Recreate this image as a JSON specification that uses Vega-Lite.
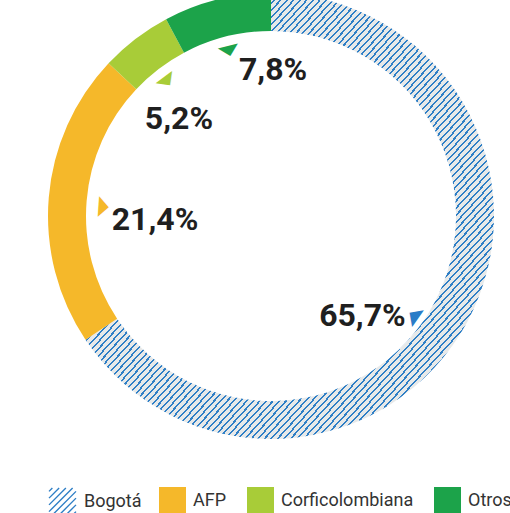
{
"$schema":"https://vega.github.io/schema/vega-lite/v6.json",
"width":542,"height":432,"autosize":"none","padding":{"left":0,"top":0,"right":0,"bottom":81},"background":"white",
"config":{"view":{"stroke":null},
"legend":{"orient":"none","direction":"horizontal","padding":0,"symbolSize":729,"labelFont":"Roboto","labelFontSize":18,"labelColor":"#333333","labelOffset":7,"columnPadding":20}},
"data":{"values":[
{"k":"Bogotá","v":65.7,"label":"65,7%"},
{"k":"AFP","v":21.4,"label":"21,4%"},
{"k":"Corficolombiana","v":5.2,"label":"5,2%"},
{"k":"Otros","v":7.8,"label":"7,8%"}]},
"transform":[{"window":[{"op":"row_number","as":"i"}]}],
"encoding":{
"theta":{"field":"v","type":"quantitative","stack":true},
"order":{"field":"i","type":"quantitative"},
"detail":{"field":"k"}
},
"layer":[
{"mark":{"type":"arc","outerRadius":223,"innerRadius":185},
"encoding":{"color":{"field":"k","type":"nominal",
"condition":{"test":"datum.k === 'Bogotá'","value":{"gradient":"linear","x1":0,"y1":0,"x2":1,"y2":1,"stops":[
{"offset":0,"color":"#e7e9e9"},{"offset":0.0055,"color":"#e7e9e9"},{"offset":0.0055,"color":"#2f7fc6"},{"offset":0.008,"color":"#2f7fc6"},
{"offset":0.008,"color":"#e7e9e9"},{"offset":0.0135,"color":"#e7e9e9"},{"offset":0.0135,"color":"#2f7fc6"},{"offset":0.016,"color":"#2f7fc6"},
{"offset":0.016,"color":"#e7e9e9"},{"offset":0.0215,"color":"#e7e9e9"},{"offset":0.0215,"color":"#2f7fc6"},{"offset":0.024,"color":"#2f7fc6"},
{"offset":0.024,"color":"#e7e9e9"},{"offset":0.0295,"color":"#e7e9e9"},{"offset":0.0295,"color":"#2f7fc6"},{"offset":0.032,"color":"#2f7fc6"},
{"offset":0.032,"color":"#e7e9e9"},{"offset":0.0375,"color":"#e7e9e9"},{"offset":0.0375,"color":"#2f7fc6"},{"offset":0.04,"color":"#2f7fc6"},
{"offset":0.04,"color":"#e7e9e9"},{"offset":0.0455,"color":"#e7e9e9"},{"offset":0.0455,"color":"#2f7fc6"},{"offset":0.048,"color":"#2f7fc6"},
{"offset":0.048,"color":"#e7e9e9"},{"offset":0.0535,"color":"#e7e9e9"},{"offset":0.0535,"color":"#2f7fc6"},{"offset":0.056,"color":"#2f7fc6"},
{"offset":0.056,"color":"#e7e9e9"},{"offset":0.0615,"color":"#e7e9e9"},{"offset":0.0615,"color":"#2f7fc6"},{"offset":0.064,"color":"#2f7fc6"},
{"offset":0.064,"color":"#e7e9e9"},{"offset":0.0695,"color":"#e7e9e9"},{"offset":0.0695,"color":"#2f7fc6"},{"offset":0.072,"color":"#2f7fc6"},
{"offset":0.072,"color":"#e7e9e9"},{"offset":0.0775,"color":"#e7e9e9"},{"offset":0.0775,"color":"#2f7fc6"},{"offset":0.08,"color":"#2f7fc6"},
{"offset":0.08,"color":"#e7e9e9"},{"offset":0.0855,"color":"#e7e9e9"},{"offset":0.0855,"color":"#2f7fc6"},{"offset":0.088,"color":"#2f7fc6"},
{"offset":0.088,"color":"#e7e9e9"},{"offset":0.0935,"color":"#e7e9e9"},{"offset":0.0935,"color":"#2f7fc6"},{"offset":0.096,"color":"#2f7fc6"},
{"offset":0.096,"color":"#e7e9e9"},{"offset":0.1015,"color":"#e7e9e9"},{"offset":0.1015,"color":"#2f7fc6"},{"offset":0.104,"color":"#2f7fc6"},
{"offset":0.104,"color":"#e7e9e9"},{"offset":0.1095,"color":"#e7e9e9"},{"offset":0.1095,"color":"#2f7fc6"},{"offset":0.112,"color":"#2f7fc6"},
{"offset":0.112,"color":"#e7e9e9"},{"offset":0.1175,"color":"#e7e9e9"},{"offset":0.1175,"color":"#2f7fc6"},{"offset":0.12,"color":"#2f7fc6"},
{"offset":0.12,"color":"#e7e9e9"},{"offset":0.1255,"color":"#e7e9e9"},{"offset":0.1255,"color":"#2f7fc6"},{"offset":0.128,"color":"#2f7fc6"},
{"offset":0.128,"color":"#e7e9e9"},{"offset":0.1335,"color":"#e7e9e9"},{"offset":0.1335,"color":"#2f7fc6"},{"offset":0.136,"color":"#2f7fc6"},
{"offset":0.136,"color":"#e7e9e9"},{"offset":0.1415,"color":"#e7e9e9"},{"offset":0.1415,"color":"#2f7fc6"},{"offset":0.144,"color":"#2f7fc6"},
{"offset":0.144,"color":"#e7e9e9"},{"offset":0.1495,"color":"#e7e9e9"},{"offset":0.1495,"color":"#2f7fc6"},{"offset":0.152,"color":"#2f7fc6"},
{"offset":0.152,"color":"#e7e9e9"},{"offset":0.1575,"color":"#e7e9e9"},{"offset":0.1575,"color":"#2f7fc6"},{"offset":0.16,"color":"#2f7fc6"},
{"offset":0.16,"color":"#e7e9e9"},{"offset":0.1655,"color":"#e7e9e9"},{"offset":0.1655,"color":"#2f7fc6"},{"offset":0.168,"color":"#2f7fc6"},
{"offset":0.168,"color":"#e7e9e9"},{"offset":0.1735,"color":"#e7e9e9"},{"offset":0.1735,"color":"#2f7fc6"},{"offset":0.176,"color":"#2f7fc6"},
{"offset":0.176,"color":"#e7e9e9"},{"offset":0.1815,"color":"#e7e9e9"},{"offset":0.1815,"color":"#2f7fc6"},{"offset":0.184,"color":"#2f7fc6"},
{"offset":0.184,"color":"#e7e9e9"},{"offset":0.1895,"color":"#e7e9e9"},{"offset":0.1895,"color":"#2f7fc6"},{"offset":0.192,"color":"#2f7fc6"},
{"offset":0.192,"color":"#e7e9e9"},{"offset":0.1975,"color":"#e7e9e9"},{"offset":0.1975,"color":"#2f7fc6"},{"offset":0.2,"color":"#2f7fc6"},
{"offset":0.2,"color":"#e7e9e9"},{"offset":0.2055,"color":"#e7e9e9"},{"offset":0.2055,"color":"#2f7fc6"},{"offset":0.208,"color":"#2f7fc6"},
{"offset":0.208,"color":"#e7e9e9"},{"offset":0.2135,"color":"#e7e9e9"},{"offset":0.2135,"color":"#2f7fc6"},{"offset":0.216,"color":"#2f7fc6"},
{"offset":0.216,"color":"#e7e9e9"},{"offset":0.2215,"color":"#e7e9e9"},{"offset":0.2215,"color":"#2f7fc6"},{"offset":0.224,"color":"#2f7fc6"},
{"offset":0.224,"color":"#e7e9e9"},{"offset":0.2295,"color":"#e7e9e9"},{"offset":0.2295,"color":"#2f7fc6"},{"offset":0.232,"color":"#2f7fc6"},
{"offset":0.232,"color":"#e7e9e9"},{"offset":0.2375,"color":"#e7e9e9"},{"offset":0.2375,"color":"#2f7fc6"},{"offset":0.24,"color":"#2f7fc6"},
{"offset":0.24,"color":"#e7e9e9"},{"offset":0.2455,"color":"#e7e9e9"},{"offset":0.2455,"color":"#2f7fc6"},{"offset":0.248,"color":"#2f7fc6"},
{"offset":0.248,"color":"#e7e9e9"},{"offset":0.2535,"color":"#e7e9e9"},{"offset":0.2535,"color":"#2f7fc6"},{"offset":0.256,"color":"#2f7fc6"},
{"offset":0.256,"color":"#e7e9e9"},{"offset":0.2615,"color":"#e7e9e9"},{"offset":0.2615,"color":"#2f7fc6"},{"offset":0.264,"color":"#2f7fc6"},
{"offset":0.264,"color":"#e7e9e9"},{"offset":0.2695,"color":"#e7e9e9"},{"offset":0.2695,"color":"#2f7fc6"},{"offset":0.272,"color":"#2f7fc6"},
{"offset":0.272,"color":"#e7e9e9"},{"offset":0.2775,"color":"#e7e9e9"},{"offset":0.2775,"color":"#2f7fc6"},{"offset":0.28,"color":"#2f7fc6"},
{"offset":0.28,"color":"#e7e9e9"},{"offset":0.2855,"color":"#e7e9e9"},{"offset":0.2855,"color":"#2f7fc6"},{"offset":0.288,"color":"#2f7fc6"},
{"offset":0.288,"color":"#e7e9e9"},{"offset":0.2935,"color":"#e7e9e9"},{"offset":0.2935,"color":"#2f7fc6"},{"offset":0.296,"color":"#2f7fc6"},
{"offset":0.296,"color":"#e7e9e9"},{"offset":0.3015,"color":"#e7e9e9"},{"offset":0.3015,"color":"#2f7fc6"},{"offset":0.304,"color":"#2f7fc6"},
{"offset":0.304,"color":"#e7e9e9"},{"offset":0.3095,"color":"#e7e9e9"},{"offset":0.3095,"color":"#2f7fc6"},{"offset":0.312,"color":"#2f7fc6"},
{"offset":0.312,"color":"#e7e9e9"},{"offset":0.3175,"color":"#e7e9e9"},{"offset":0.3175,"color":"#2f7fc6"},{"offset":0.32,"color":"#2f7fc6"},
{"offset":0.32,"color":"#e7e9e9"},{"offset":0.3255,"color":"#e7e9e9"},{"offset":0.3255,"color":"#2f7fc6"},{"offset":0.328,"color":"#2f7fc6"},
{"offset":0.328,"color":"#e7e9e9"},{"offset":0.3335,"color":"#e7e9e9"},{"offset":0.3335,"color":"#2f7fc6"},{"offset":0.336,"color":"#2f7fc6"},
{"offset":0.336,"color":"#e7e9e9"},{"offset":0.3415,"color":"#e7e9e9"},{"offset":0.3415,"color":"#2f7fc6"},{"offset":0.344,"color":"#2f7fc6"},
{"offset":0.344,"color":"#e7e9e9"},{"offset":0.3495,"color":"#e7e9e9"},{"offset":0.3495,"color":"#2f7fc6"},{"offset":0.352,"color":"#2f7fc6"},
{"offset":0.352,"color":"#e7e9e9"},{"offset":0.3575,"color":"#e7e9e9"},{"offset":0.3575,"color":"#2f7fc6"},{"offset":0.36,"color":"#2f7fc6"},
{"offset":0.36,"color":"#e7e9e9"},{"offset":0.3655,"color":"#e7e9e9"},{"offset":0.3655,"color":"#2f7fc6"},{"offset":0.368,"color":"#2f7fc6"},
{"offset":0.368,"color":"#e7e9e9"},{"offset":0.3735,"color":"#e7e9e9"},{"offset":0.3735,"color":"#2f7fc6"},{"offset":0.376,"color":"#2f7fc6"},
{"offset":0.376,"color":"#e7e9e9"},{"offset":0.3815,"color":"#e7e9e9"},{"offset":0.3815,"color":"#2f7fc6"},{"offset":0.384,"color":"#2f7fc6"},
{"offset":0.384,"color":"#e7e9e9"},{"offset":0.3895,"color":"#e7e9e9"},{"offset":0.3895,"color":"#2f7fc6"},{"offset":0.392,"color":"#2f7fc6"},
{"offset":0.392,"color":"#e7e9e9"},{"offset":0.3975,"color":"#e7e9e9"},{"offset":0.3975,"color":"#2f7fc6"},{"offset":0.4,"color":"#2f7fc6"},
{"offset":0.4,"color":"#e7e9e9"},{"offset":0.4055,"color":"#e7e9e9"},{"offset":0.4055,"color":"#2f7fc6"},{"offset":0.408,"color":"#2f7fc6"},
{"offset":0.408,"color":"#e7e9e9"},{"offset":0.4135,"color":"#e7e9e9"},{"offset":0.4135,"color":"#2f7fc6"},{"offset":0.416,"color":"#2f7fc6"},
{"offset":0.416,"color":"#e7e9e9"},{"offset":0.4215,"color":"#e7e9e9"},{"offset":0.4215,"color":"#2f7fc6"},{"offset":0.424,"color":"#2f7fc6"},
{"offset":0.424,"color":"#e7e9e9"},{"offset":0.4295,"color":"#e7e9e9"},{"offset":0.4295,"color":"#2f7fc6"},{"offset":0.432,"color":"#2f7fc6"},
{"offset":0.432,"color":"#e7e9e9"},{"offset":0.4375,"color":"#e7e9e9"},{"offset":0.4375,"color":"#2f7fc6"},{"offset":0.44,"color":"#2f7fc6"},
{"offset":0.44,"color":"#e7e9e9"},{"offset":0.4455,"color":"#e7e9e9"},{"offset":0.4455,"color":"#2f7fc6"},{"offset":0.448,"color":"#2f7fc6"},
{"offset":0.448,"color":"#e7e9e9"},{"offset":0.4535,"color":"#e7e9e9"},{"offset":0.4535,"color":"#2f7fc6"},{"offset":0.456,"color":"#2f7fc6"},
{"offset":0.456,"color":"#e7e9e9"},{"offset":0.4615,"color":"#e7e9e9"},{"offset":0.4615,"color":"#2f7fc6"},{"offset":0.464,"color":"#2f7fc6"},
{"offset":0.464,"color":"#e7e9e9"},{"offset":0.4695,"color":"#e7e9e9"},{"offset":0.4695,"color":"#2f7fc6"},{"offset":0.472,"color":"#2f7fc6"},
{"offset":0.472,"color":"#e7e9e9"},{"offset":0.4775,"color":"#e7e9e9"},{"offset":0.4775,"color":"#2f7fc6"},{"offset":0.48,"color":"#2f7fc6"},
{"offset":0.48,"color":"#e7e9e9"},{"offset":0.4855,"color":"#e7e9e9"},{"offset":0.4855,"color":"#2f7fc6"},{"offset":0.488,"color":"#2f7fc6"},
{"offset":0.488,"color":"#e7e9e9"},{"offset":0.4935,"color":"#e7e9e9"},{"offset":0.4935,"color":"#2f7fc6"},{"offset":0.496,"color":"#2f7fc6"},
{"offset":0.496,"color":"#e7e9e9"},{"offset":0.5015,"color":"#e7e9e9"},{"offset":0.5015,"color":"#2f7fc6"},{"offset":0.504,"color":"#2f7fc6"},
{"offset":0.504,"color":"#e7e9e9"},{"offset":0.5095,"color":"#e7e9e9"},{"offset":0.5095,"color":"#2f7fc6"},{"offset":0.512,"color":"#2f7fc6"},
{"offset":0.512,"color":"#e7e9e9"},{"offset":0.5175,"color":"#e7e9e9"},{"offset":0.5175,"color":"#2f7fc6"},{"offset":0.52,"color":"#2f7fc6"},
{"offset":0.52,"color":"#e7e9e9"},{"offset":0.5255,"color":"#e7e9e9"},{"offset":0.5255,"color":"#2f7fc6"},{"offset":0.528,"color":"#2f7fc6"},
{"offset":0.528,"color":"#e7e9e9"},{"offset":0.5335,"color":"#e7e9e9"},{"offset":0.5335,"color":"#2f7fc6"},{"offset":0.536,"color":"#2f7fc6"},
{"offset":0.536,"color":"#e7e9e9"},{"offset":0.5415,"color":"#e7e9e9"},{"offset":0.5415,"color":"#2f7fc6"},{"offset":0.544,"color":"#2f7fc6"},
{"offset":0.544,"color":"#e7e9e9"},{"offset":0.5495,"color":"#e7e9e9"},{"offset":0.5495,"color":"#2f7fc6"},{"offset":0.552,"color":"#2f7fc6"},
{"offset":0.552,"color":"#e7e9e9"},{"offset":0.5575,"color":"#e7e9e9"},{"offset":0.5575,"color":"#2f7fc6"},{"offset":0.56,"color":"#2f7fc6"},
{"offset":0.56,"color":"#e7e9e9"},{"offset":0.5655,"color":"#e7e9e9"},{"offset":0.5655,"color":"#2f7fc6"},{"offset":0.568,"color":"#2f7fc6"},
{"offset":0.568,"color":"#e7e9e9"},{"offset":0.5735,"color":"#e7e9e9"},{"offset":0.5735,"color":"#2f7fc6"},{"offset":0.576,"color":"#2f7fc6"},
{"offset":0.576,"color":"#e7e9e9"},{"offset":0.5815,"color":"#e7e9e9"},{"offset":0.5815,"color":"#2f7fc6"},{"offset":0.584,"color":"#2f7fc6"},
{"offset":0.584,"color":"#e7e9e9"},{"offset":0.5895,"color":"#e7e9e9"},{"offset":0.5895,"color":"#2f7fc6"},{"offset":0.592,"color":"#2f7fc6"},
{"offset":0.592,"color":"#e7e9e9"},{"offset":0.5975,"color":"#e7e9e9"},{"offset":0.5975,"color":"#2f7fc6"},{"offset":0.6,"color":"#2f7fc6"},
{"offset":0.6,"color":"#e7e9e9"},{"offset":0.6055,"color":"#e7e9e9"},{"offset":0.6055,"color":"#2f7fc6"},{"offset":0.608,"color":"#2f7fc6"},
{"offset":0.608,"color":"#e7e9e9"},{"offset":0.6135,"color":"#e7e9e9"},{"offset":0.6135,"color":"#2f7fc6"},{"offset":0.616,"color":"#2f7fc6"},
{"offset":0.616,"color":"#e7e9e9"},{"offset":0.6215,"color":"#e7e9e9"},{"offset":0.6215,"color":"#2f7fc6"},{"offset":0.624,"color":"#2f7fc6"},
{"offset":0.624,"color":"#e7e9e9"},{"offset":0.6295,"color":"#e7e9e9"},{"offset":0.6295,"color":"#2f7fc6"},{"offset":0.632,"color":"#2f7fc6"},
{"offset":0.632,"color":"#e7e9e9"},{"offset":0.6375,"color":"#e7e9e9"},{"offset":0.6375,"color":"#2f7fc6"},{"offset":0.64,"color":"#2f7fc6"},
{"offset":0.64,"color":"#e7e9e9"},{"offset":0.6455,"color":"#e7e9e9"},{"offset":0.6455,"color":"#2f7fc6"},{"offset":0.648,"color":"#2f7fc6"},
{"offset":0.648,"color":"#e7e9e9"},{"offset":0.6535,"color":"#e7e9e9"},{"offset":0.6535,"color":"#2f7fc6"},{"offset":0.656,"color":"#2f7fc6"},
{"offset":0.656,"color":"#e7e9e9"},{"offset":0.6615,"color":"#e7e9e9"},{"offset":0.6615,"color":"#2f7fc6"},{"offset":0.664,"color":"#2f7fc6"},
{"offset":0.664,"color":"#e7e9e9"},{"offset":0.6695,"color":"#e7e9e9"},{"offset":0.6695,"color":"#2f7fc6"},{"offset":0.672,"color":"#2f7fc6"},
{"offset":0.672,"color":"#e7e9e9"},{"offset":0.6775,"color":"#e7e9e9"},{"offset":0.6775,"color":"#2f7fc6"},{"offset":0.68,"color":"#2f7fc6"},
{"offset":0.68,"color":"#e7e9e9"},{"offset":0.6855,"color":"#e7e9e9"},{"offset":0.6855,"color":"#2f7fc6"},{"offset":0.688,"color":"#2f7fc6"},
{"offset":0.688,"color":"#e7e9e9"},{"offset":0.6935,"color":"#e7e9e9"},{"offset":0.6935,"color":"#2f7fc6"},{"offset":0.696,"color":"#2f7fc6"},
{"offset":0.696,"color":"#e7e9e9"},{"offset":0.7015,"color":"#e7e9e9"},{"offset":0.7015,"color":"#2f7fc6"},{"offset":0.704,"color":"#2f7fc6"},
{"offset":0.704,"color":"#e7e9e9"},{"offset":0.7095,"color":"#e7e9e9"},{"offset":0.7095,"color":"#2f7fc6"},{"offset":0.712,"color":"#2f7fc6"},
{"offset":0.712,"color":"#e7e9e9"},{"offset":0.7175,"color":"#e7e9e9"},{"offset":0.7175,"color":"#2f7fc6"},{"offset":0.72,"color":"#2f7fc6"},
{"offset":0.72,"color":"#e7e9e9"},{"offset":0.7255,"color":"#e7e9e9"},{"offset":0.7255,"color":"#2f7fc6"},{"offset":0.728,"color":"#2f7fc6"},
{"offset":0.728,"color":"#e7e9e9"},{"offset":0.7335,"color":"#e7e9e9"},{"offset":0.7335,"color":"#2f7fc6"},{"offset":0.736,"color":"#2f7fc6"},
{"offset":0.736,"color":"#e7e9e9"},{"offset":0.7415,"color":"#e7e9e9"},{"offset":0.7415,"color":"#2f7fc6"},{"offset":0.744,"color":"#2f7fc6"},
{"offset":0.744,"color":"#e7e9e9"},{"offset":0.7495,"color":"#e7e9e9"},{"offset":0.7495,"color":"#2f7fc6"},{"offset":0.752,"color":"#2f7fc6"},
{"offset":0.752,"color":"#e7e9e9"},{"offset":0.7575,"color":"#e7e9e9"},{"offset":0.7575,"color":"#2f7fc6"},{"offset":0.76,"color":"#2f7fc6"},
{"offset":0.76,"color":"#e7e9e9"},{"offset":0.7655,"color":"#e7e9e9"},{"offset":0.7655,"color":"#2f7fc6"},{"offset":0.768,"color":"#2f7fc6"},
{"offset":0.768,"color":"#e7e9e9"},{"offset":0.7735,"color":"#e7e9e9"},{"offset":0.7735,"color":"#2f7fc6"},{"offset":0.776,"color":"#2f7fc6"},
{"offset":0.776,"color":"#e7e9e9"},{"offset":0.7815,"color":"#e7e9e9"},{"offset":0.7815,"color":"#2f7fc6"},{"offset":0.784,"color":"#2f7fc6"},
{"offset":0.784,"color":"#e7e9e9"},{"offset":0.7895,"color":"#e7e9e9"},{"offset":0.7895,"color":"#2f7fc6"},{"offset":0.792,"color":"#2f7fc6"},
{"offset":0.792,"color":"#e7e9e9"},{"offset":0.7975,"color":"#e7e9e9"},{"offset":0.7975,"color":"#2f7fc6"},{"offset":0.8,"color":"#2f7fc6"},
{"offset":0.8,"color":"#e7e9e9"},{"offset":0.8055,"color":"#e7e9e9"},{"offset":0.8055,"color":"#2f7fc6"},{"offset":0.808,"color":"#2f7fc6"},
{"offset":0.808,"color":"#e7e9e9"},{"offset":0.8135,"color":"#e7e9e9"},{"offset":0.8135,"color":"#2f7fc6"},{"offset":0.816,"color":"#2f7fc6"},
{"offset":0.816,"color":"#e7e9e9"},{"offset":0.8215,"color":"#e7e9e9"},{"offset":0.8215,"color":"#2f7fc6"},{"offset":0.824,"color":"#2f7fc6"},
{"offset":0.824,"color":"#e7e9e9"},{"offset":0.8295,"color":"#e7e9e9"},{"offset":0.8295,"color":"#2f7fc6"},{"offset":0.832,"color":"#2f7fc6"},
{"offset":0.832,"color":"#e7e9e9"},{"offset":0.8375,"color":"#e7e9e9"},{"offset":0.8375,"color":"#2f7fc6"},{"offset":0.84,"color":"#2f7fc6"},
{"offset":0.84,"color":"#e7e9e9"},{"offset":0.8455,"color":"#e7e9e9"},{"offset":0.8455,"color":"#2f7fc6"},{"offset":0.848,"color":"#2f7fc6"},
{"offset":0.848,"color":"#e7e9e9"},{"offset":0.8535,"color":"#e7e9e9"},{"offset":0.8535,"color":"#2f7fc6"},{"offset":0.856,"color":"#2f7fc6"},
{"offset":0.856,"color":"#e7e9e9"},{"offset":0.8615,"color":"#e7e9e9"},{"offset":0.8615,"color":"#2f7fc6"},{"offset":0.864,"color":"#2f7fc6"},
{"offset":0.864,"color":"#e7e9e9"},{"offset":0.8695,"color":"#e7e9e9"},{"offset":0.8695,"color":"#2f7fc6"},{"offset":0.872,"color":"#2f7fc6"},
{"offset":0.872,"color":"#e7e9e9"},{"offset":0.8775,"color":"#e7e9e9"},{"offset":0.8775,"color":"#2f7fc6"},{"offset":0.88,"color":"#2f7fc6"},
{"offset":0.88,"color":"#e7e9e9"},{"offset":0.8855,"color":"#e7e9e9"},{"offset":0.8855,"color":"#2f7fc6"},{"offset":0.888,"color":"#2f7fc6"},
{"offset":0.888,"color":"#e7e9e9"},{"offset":0.8935,"color":"#e7e9e9"},{"offset":0.8935,"color":"#2f7fc6"},{"offset":0.896,"color":"#2f7fc6"},
{"offset":0.896,"color":"#e7e9e9"},{"offset":0.9015,"color":"#e7e9e9"},{"offset":0.9015,"color":"#2f7fc6"},{"offset":0.904,"color":"#2f7fc6"},
{"offset":0.904,"color":"#e7e9e9"},{"offset":0.9095,"color":"#e7e9e9"},{"offset":0.9095,"color":"#2f7fc6"},{"offset":0.912,"color":"#2f7fc6"},
{"offset":0.912,"color":"#e7e9e9"},{"offset":0.9175,"color":"#e7e9e9"},{"offset":0.9175,"color":"#2f7fc6"},{"offset":0.92,"color":"#2f7fc6"},
{"offset":0.92,"color":"#e7e9e9"},{"offset":0.9255,"color":"#e7e9e9"},{"offset":0.9255,"color":"#2f7fc6"},{"offset":0.928,"color":"#2f7fc6"},
{"offset":0.928,"color":"#e7e9e9"},{"offset":0.9335,"color":"#e7e9e9"},{"offset":0.9335,"color":"#2f7fc6"},{"offset":0.936,"color":"#2f7fc6"},
{"offset":0.936,"color":"#e7e9e9"},{"offset":0.9415,"color":"#e7e9e9"},{"offset":0.9415,"color":"#2f7fc6"},{"offset":0.944,"color":"#2f7fc6"},
{"offset":0.944,"color":"#e7e9e9"},{"offset":0.9495,"color":"#e7e9e9"},{"offset":0.9495,"color":"#2f7fc6"},{"offset":0.952,"color":"#2f7fc6"},
{"offset":0.952,"color":"#e7e9e9"},{"offset":0.9575,"color":"#e7e9e9"},{"offset":0.9575,"color":"#2f7fc6"},{"offset":0.96,"color":"#2f7fc6"},
{"offset":0.96,"color":"#e7e9e9"},{"offset":0.9655,"color":"#e7e9e9"},{"offset":0.9655,"color":"#2f7fc6"},{"offset":0.968,"color":"#2f7fc6"},
{"offset":0.968,"color":"#e7e9e9"},{"offset":0.9735,"color":"#e7e9e9"},{"offset":0.9735,"color":"#2f7fc6"},{"offset":0.976,"color":"#2f7fc6"},
{"offset":0.976,"color":"#e7e9e9"},{"offset":0.9815,"color":"#e7e9e9"},{"offset":0.9815,"color":"#2f7fc6"},{"offset":0.984,"color":"#2f7fc6"},
{"offset":0.984,"color":"#e7e9e9"},{"offset":0.9895,"color":"#e7e9e9"},{"offset":0.9895,"color":"#2f7fc6"},{"offset":0.992,"color":"#2f7fc6"},
{"offset":0.992,"color":"#e7e9e9"},{"offset":0.9975,"color":"#e7e9e9"},{"offset":0.9975,"color":"#2f7fc6"},{"offset":1,"color":"#2f7fc6"}
]}},
"scale":{"domain":["AFP","Corficolombiana","Otros"],"range":["#f5b82a","#a8cc38","#1ca34a"]},
"legend":{"title":null,"legendX":159,"legendY":487,"symbolType":"square","symbolStrokeWidth":0}}}},
{"mark":{"type":"text"},
"encoding":{"text":{"value":""},
"stroke":{"field":"k","type":"nominal","scale":{"domain":["Bogotá"],"range":["#2f7fc6"]},
"legend":{"title":null,"legendX":48,"legendY":487,
"symbolType":"M-1,-0.75L-0.75,-1M-1,-0.25L-0.25,-1M-1,0.25L0.25,-1M-1,0.75L0.75,-1M-0.75,1L1,-0.75M-0.25,1L1,-0.25M0.25,1L1,0.25M0.75,1L1,0.75",
"symbolStrokeWidth":1.4,"symbolFillColor":"transparent"}}}},
{"mark":{"type":"text","radius":140,"dx":-32,"dy":34,"font":"Roboto","fontWeight":"bold","fontSize":32,"fill":"#1f1f1f"},
"encoding":{"text":{"condition":{"test":"datum.k === 'Bogotá'","field":"label"},"value":""}}},
{"mark":{"type":"text","radius":140,"dx":23.5,"dy":16,"font":"Roboto","fontWeight":"bold","fontSize":32,"fill":"#1f1f1f"},
"encoding":{"text":{"condition":{"test":"datum.k === 'AFP'","field":"label"},"value":""}}},
{"mark":{"type":"text","radius":140,"dx":-7,"dy":14,"font":"Roboto","fontWeight":"bold","fontSize":32,"fill":"#1f1f1f"},
"encoding":{"text":{"condition":{"test":"datum.k === 'Corficolombiana'","field":"label"},"value":""}}},
{"mark":{"type":"text","radius":140,"dx":36,"dy":-10,"font":"Roboto","fontWeight":"bold","fontSize":32,"fill":"#1f1f1f"},
"encoding":{"text":{"condition":{"test":"datum.k === 'Otros'","field":"label"},"value":""}}},
{"mark":{"type":"text","radius":176,"angle":170,"dx":11.5,"dy":-18.9,"font":"DejaVu Sans","fontSize":19,"fill":"#2a7cc7"},
"encoding":{"text":{"condition":{"test":"datum.k === 'Bogotá'","value":"◢"},"value":""}}},
{"mark":{"type":"text","radius":176,"angle":319,"dx":-1.1,"dy":4.8,"font":"DejaVu Sans","fontSize":19,"fill":"#f5b82a"},
"encoding":{"text":{"condition":{"test":"datum.k === 'AFP'","value":"◢"},"value":""}}},
{"mark":{"type":"text","radius":176,"angle":8,"font":"DejaVu Sans","fontSize":19,"fill":"#a8cc38"},
"encoding":{"text":{"condition":{"test":"datum.k === 'Corficolombiana'","value":"◢"},"value":""}}},
{"mark":{"type":"text","radius":176,"angle":31,"font":"DejaVu Sans","fontSize":19,"fill":"#1ca34a"},
"encoding":{"text":{"condition":{"test":"datum.k === 'Otros'","value":"◢"},"value":""}}}
]
}
